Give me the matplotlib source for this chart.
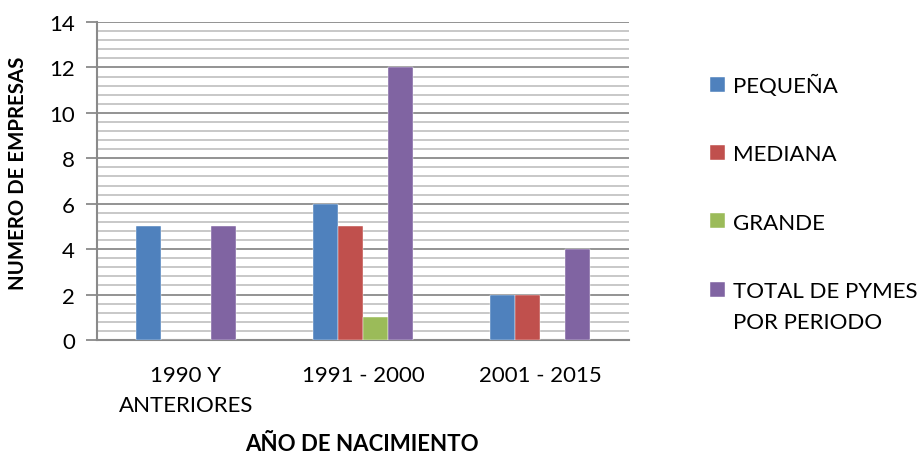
import matplotlib.pyplot as plt
import numpy as np
from matplotlib.ticker import MultipleLocator

# datos
periodos = ['1990 Y\nANTERIORES', '1991 - 2000', '2001 - 2015']
pequena = [5, 6, 2]
mediana = [0, 5, 2]
grande = [0, 1, 0]
total = [5, 12, 4]
series = ['PEQUEÑA', 'MEDIANA', 'GRANDE', 'TOTAL DE PYMES\nPOR PERIODO']
colores = ['#4F81BD', '#C0504D', '#9BBB59', '#8064A2']


def main():
    plt.rcParams['font.family'] = ['Lato', 'DejaVu Sans']
    fs = 16
    fig = plt.figure(figsize=(9.21, 4.56), dpi=100)
    ax = fig.add_axes([97 / 921, 1 - 341 / 456, 532 / 921, 318 / 456])

    x = np.arange(len(periodos))
    w = 0.141
    valores = [pequena, mediana, grande, total]
    for i, (vals, nombre, c) in enumerate(zip(valores, series, colores)):
        ax.bar(x + (i - 1.5) * w, vals, w, color=c, label=nombre,
               edgecolor='white', linewidth=0.3, zorder=3)

    ax.set_xlim(-0.5, 2.5)
    ax.set_ylim(0, 14)
    ax.yaxis.set_major_locator(MultipleLocator(2))
    ax.yaxis.set_minor_locator(MultipleLocator(0.4))
    ax.grid(True, which='major', axis='y', color='#8a8a8a', linewidth=1.3, zorder=1)
    ax.grid(True, which='minor', axis='y', color='#c4c4c4', linewidth=1.3, zorder=1)
    ax.tick_params(axis='y', which='major', length=8, width=1.3, color='#8a8a8a',
                   labelsize=fs, pad=8)
    ax.tick_params(axis='y', which='minor', length=0)
    ax.tick_params(axis='x', length=0, labelsize=fs, pad=18)
    ax.set_xticks(x)
    ax.set_xticklabels(periodos, linespacing=1.65)
    for s in ['top', 'right']:
        ax.spines[s].set_visible(False)
    for s in ['left', 'bottom']:
        ax.spines[s].set_color('#8a8a8a')
        ax.spines[s].set_linewidth(1.5)

    ax.set_ylabel('NUMERO DE EMPRESAS', fontsize=14.7, fontweight='bold')
    ax.yaxis.set_label_coords(-(97 - 28) / 532, (341 - 173) / 318)
    ax.set_xlabel('AÑO DE NACIMIENTO', fontsize=fs, fontweight='bold')
    ax.xaxis.set_label_coords(265 / 532, -(434 - 341) / 318)

    leg = fig.legend(loc='upper left', bbox_to_anchor=(690 / 921, 1 - 55 / 456),
                     frameon=False, fontsize=fs, handlelength=0.68, handleheight=0.68,
                     handletextpad=0.35, labelspacing=2.17)
    for t in leg.get_texts():
        t.set_linespacing(1.7)
    # el cuadro de la ultima serie va alineado con la primera linea
    h = leg.legend_handles[3]
    h.set_y(h.get_y() + 12.5)

    plt.savefig('out.png', dpi=100)
    plt.clf()


if __name__ == '__main__':
    main()
